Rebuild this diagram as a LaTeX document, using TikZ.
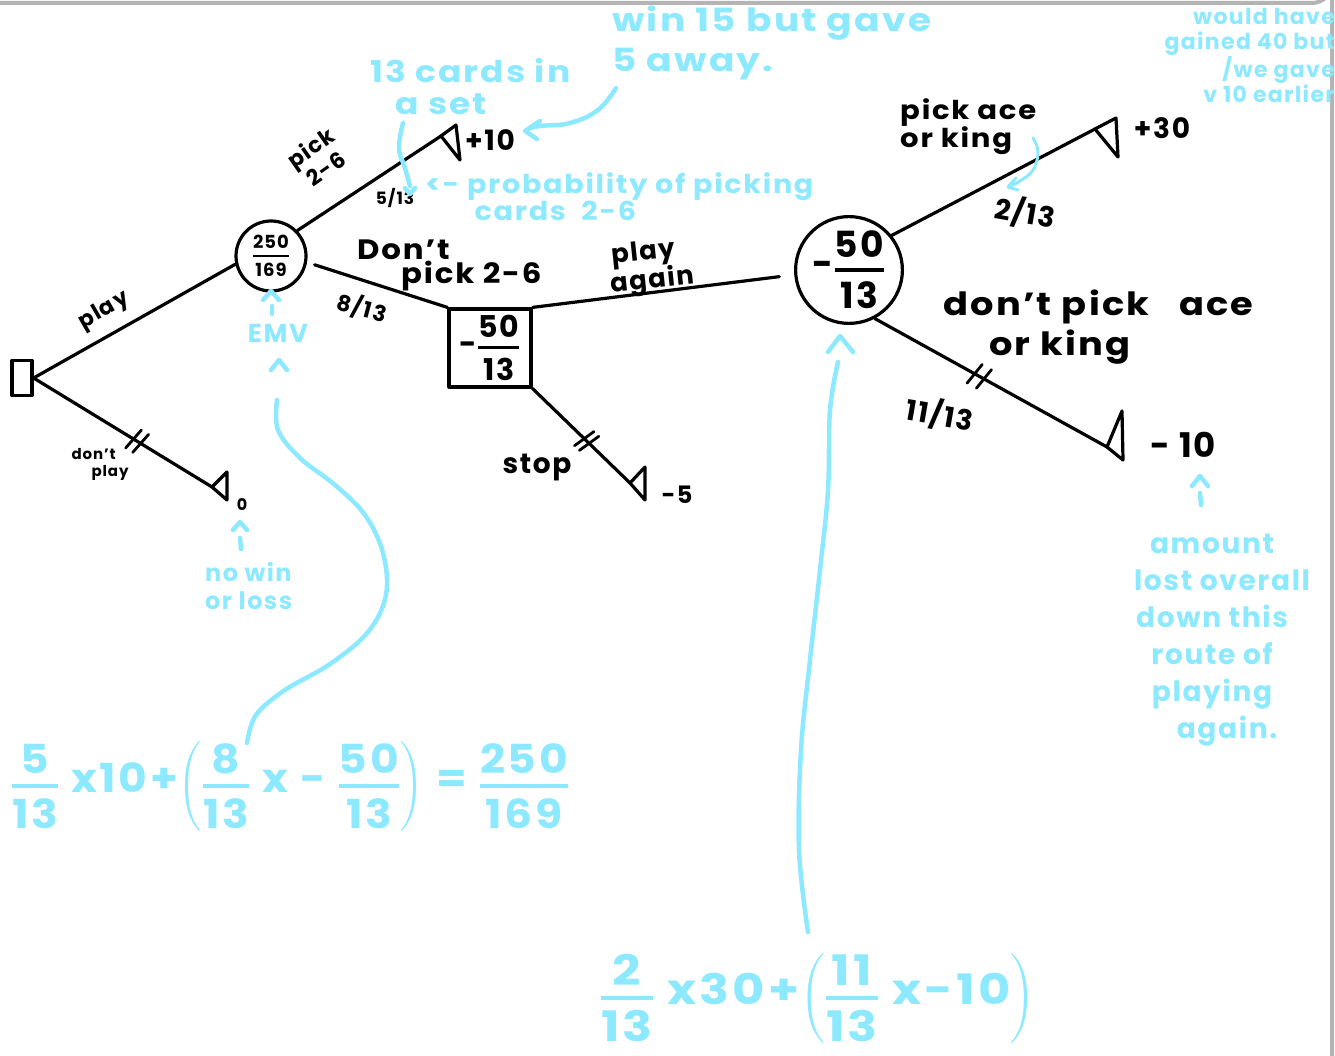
\documentclass[tikz,border=0pt]{standalone}
\usepackage{amsmath}
\usepackage{fontspec}
\setmainfont{Poppins}[LetterSpace=6]
\usetikzlibrary{calc}
\definecolor{hb}{HTML}{8DE9FF}
\definecolor{framegray}{HTML}{B4B4B4}
\newcommand{\hfr}[3][2.5pt]{\ensuremath{\genfrac{}{}{#1}{0}{\text{#2}}{\text{#3}}}}
\newcommand{\fs}[1]{\fontsize{#1}{#1}\selectfont}
\begin{document}
\begin{tikzpicture}[x=1pt,y=-1pt,
  ink/.style={draw=black, line width=3.2pt, line cap=round, line join=round},
  note/.style={draw=hb, line width=4.5pt, line cap=round, line join=round},
  lbl/.style={inner sep=0, text=black},
  blu/.style={inner sep=0, text=hb},
  dsq/.style={ink, rectangle, minimum width=20pt, minimum height=35pt, inner sep=0},
  chance/.style={ink, circle, inner sep=0},
  vbox/.style={ink, rectangle, minimum width=82pt, minimum height=78pt, inner sep=0}
]
\useasboundingbox (0,0) rectangle (1335,1056);
\fill[white] (0,0) rectangle (1335,1056);
% frame
\draw[framegray, line width=4pt] (0,3) -- (1312,3) arc[start angle=90, end angle=0, radius=20] -- (1332,1056);

% ---------- nodes ----------
\node[dsq] (sq) at (22,378) {};
\node[chance, minimum size=70pt] (c1) at (271,256) {\bfseries\fs{18}\hfr[2pt]{250}{169}};
\node[vbox] (bx) at (490,348) {\bfseries\fs{30}-\hfr[3pt]{50}{13}};
\node[chance, minimum size=100pt] (c2) at (849,270) {\bfseries\fs{36}-\hfr[3.5pt]{50}{13}};

\coordinate (t0) at (212,487);
\coordinate (t10) at (441,136);
\coordinate (t5) at (630,483);
\coordinate (t30) at (1095,129);
\coordinate (tm10) at (1107,447);

% terminal triangles
\draw[ink] (t0) -- (227,472) -- (227,500) -- cycle;
\draw[ink] (t10) -- (456,125) -- (460,160) -- cycle;
\draw[ink] (t5) -- (645,467) -- (645,500) -- cycle;
\draw[ink] (t30) -- (1116,118) -- (1118,157) -- cycle;
\draw[ink] (tm10) -- (1122,411) -- (1123,460) -- cycle;

% ---------- connectors ----------
\draw[ink] (sq.east) -- (c1.193);
\draw[ink] (sq.east) -- (t0) coordinate[pos=0.56] (k1a) coordinate[pos=0.6] (k1b);
\draw[ink] (c1.44) -- (t10);
\draw[ink, shorten <=8pt] (c1.-10) -- (bx.north west);
\draw[ink, shorten >=15pt] (bx.north east) -- (c2.185);
\draw[ink] (bx.south east) -- (t5) coordinate[pos=0.53] (k2a) coordinate[pos=0.58] (k2b);
\draw[ink] (c2.39) -- (t30);
\draw[ink] (c2.-62) -- (tm10) coordinate[pos=0.43] (k3a) coordinate[pos=0.47] (k3b);
% double ticks
\foreach \k/\e in {k1a/t0,k1b/t0,k2a/t5,k2b/t5,k3a/tm10,k3b/tm10}{
  \draw[ink, line width=2.8pt] ($(\k)!12pt!80:(\e)$) -- ($(\k)!12pt!-100:(\e)$);
}

% ---------- black labels ----------
\node[lbl, font=\bfseries\fs{22}, rotate=30] (lplay) at (104,311) {play};
\node[lbl, font=\bfseries\fontsize{15}{17}\selectfont, align=left] (ldp) at (100,464) {don't\\\hspace*{20pt}play};
\node[lbl, font=\bfseries\fs{16}] (l0) at (242,505) {0};
\node[lbl, font=\bfseries\fontsize{22}{26}\selectfont, rotate=35, align=center] (lpick) at (318,158) {pick\\2-6};
\node[lbl, font=\bfseries\fs{17}] (l513) at (395,198) {5/13};
\node[lbl, font=\bfseries\fs{28}] (lp10) at (490,140) {+10};
\node[lbl, font=\bfseries\fontsize{28}{24}\selectfont, align=left, anchor=north west, xscale=1.1] (ldont) at (357,240) {Don't\\\hspace*{40pt}pick 2-6};
\node[lbl, font=\bfseries\fs{22}, rotate=-15] (l813) at (362,308) {8/13};
\node[lbl, font=\bfseries\fontsize{26}{22}\selectfont, align=center, rotate=6] (lagain) at (645,268) {play\\\hspace*{12pt}again};
\node[lbl, font=\bfseries\fs{28}] (lstop) at (537,468) {stop};
\node[lbl, font=\bfseries\fs{24}] (lm5) at (677,495) {-5};
\node[lbl, font=\bfseries\fontsize{26}{28}\selectfont, align=left, anchor=north west, xscale=1.12] (lace) at (900,98) {pick ace\\or king};
\node[lbl, font=\bfseries\fs{28}] (lp30) at (1162,128) {+30};
\node[lbl, font=\bfseries\fs{28}, rotate=-10] (l213) at (1025,213) {2/13};
\node[lbl, font=\bfseries\fontsize{32}{40}\selectfont, align=left, anchor=north west, xscale=1.15] (ldace) at (943,290) {don't pick\ \ \ ace\\\hspace*{40pt}or king};
\node[lbl, font=\bfseries\fs{28}, rotate=-10] (l1113) at (940,415) {11/13};
\node[lbl, font=\bfseries\fs{34}] (lm10) at (1183,445) {- 10};

% ---------- blue notes ----------
\node[blu, font=\bfseries\fontsize{30}{32}\selectfont, align=left, anchor=north west, xscale=1.15] (ncards) at (370,58) {13 cards in\\\hspace*{22pt}a set};
\node[blu, font=\bfseries\fontsize{32}{40}\selectfont, align=left, anchor=north west, xscale=1.17] (nwin) at (612,6) {win 15 but gave\\5 away.};
\node[blu, font=\bfseries\fontsize{26}{26}\selectfont, align=left, anchor=north west, xscale=1.1] (nprob) at (425,172) {<- probability of picking\\\hspace*{45pt}cards\ \ 2-6};
\node[blu, font=\bfseries\fontsize{22}{25}\selectfont, align=right, anchor=north east] (nwould) at (1335,8) {would have\\gained 40 but\\/we gave\ \ \\v 10 earlier};
\node[blu, font=\bfseries\fs{26}] (nemv) at (278,333) {EMV};
\node[blu, font=\bfseries\fontsize{24}{28}\selectfont, align=left, anchor=north west] (nnowin) at (205,562) {no win\\or loss};
\node[blu, font=\bfseries\fontsize{28}{37}\selectfont, align=center] (namount) at (1212,640) {amount\\\hspace*{20pt}lost overall\\down this\\route of\\playing\\\hspace*{30pt}again.};

\node[blu, font=\bfseries\fs{40}, xscale=1.1] (eq1) at (290,786) {\hfr[3.5pt]{5}{13} x10+$\left(\hfr[3.5pt]{8}{13}\text{ x - }\hfr[3.5pt]{50}{13}\right)$ = \hfr[3.5pt]{250}{169}};
\node[blu, font=\bfseries\fs{42}, xscale=1.18] (eq2) at (818,998) {\hfr[3.5pt]{2}{13} x30+$\left(\hfr[3.5pt]{11}{13}\text{ x-10}\right)$};

% carets and pointer strokes
\draw[note] (263,300) -- (271,291) -- (279,300);
\draw[note] (272,306) -- (272,314);
\draw[note] (233,530) -- (240,522) -- (247,530);
\draw[note] (240,538) -- (241,549);
\draw[note] (1192,486) -- (1200,476) -- (1208,486);
\draw[note] (1200,493) -- (1201,505);
\draw[note] (828,352) -- (840,336) -- (853,352);
\draw[note] (271,370) -- (279,360) -- (287,370);

\coordinate (a1s) at (277,400);
\coordinate (a1e) at (247,743);
\draw[note] plot[smooth, tension=0.6] coordinates {(a1s) (278,430) (300,458) (335,485) (365,515) (383,553) (386,595) (368,632) (330,664) (285,690) (256,715) (a1e)};
\coordinate (a2s) at (838,362);
\coordinate (a2e) at (808,932);
\draw[note] plot[smooth, tension=0.6] coordinates {(a2s) (830,410) (828,490) (820,570) (810,660) (801,750) (799,850) (a2e)};

% win 15 arrow
\draw[note] plot[smooth, tension=0.7] coordinates {(616,88) (598,110) (570,123) (540,126) (528,129)};
\draw[note] (540,121) -- (525,131) -- (537,139);
% 13 cards bracket
\draw[note] plot[smooth, tension=0.7] coordinates {(403,123) (399,148) (405,168) (410,186)};
\draw[note] (405,188) -- (410,194) -- (415,188);
% pick ace bracket
\draw[note, line width=3pt] plot[smooth, tension=0.7] coordinates {(1033,138) (1038,152) (1033,170) (1020,181) (1010,186)};
\draw[note, line width=3pt] (1016,178) -- (1008,187) -- (1018,190);
\end{tikzpicture}
\end{document}
